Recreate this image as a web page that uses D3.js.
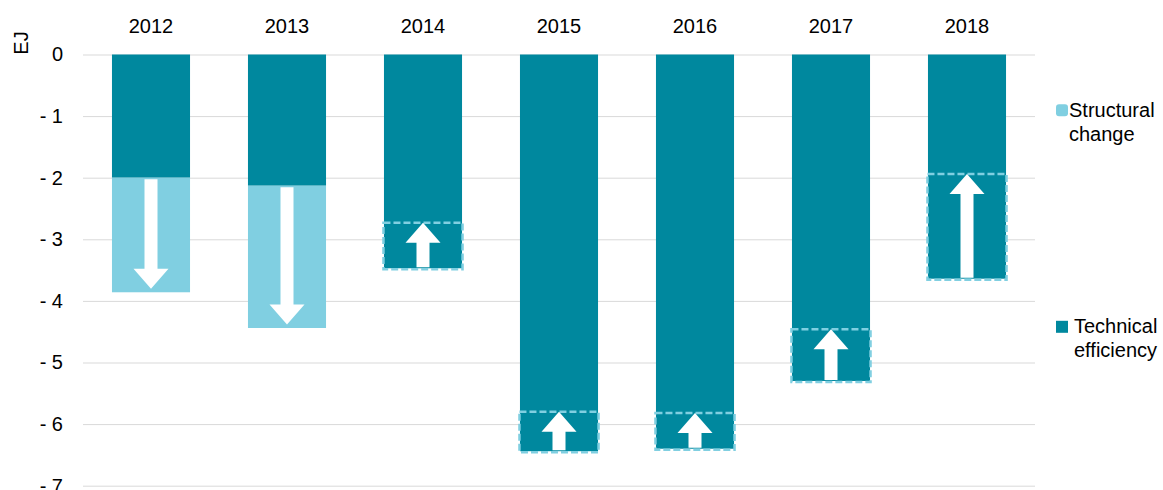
<!DOCTYPE html>
<html>
<head>
<meta charset="utf-8">
<script src="https://cdn.jsdelivr.net/npm/d3@7/dist/d3.min.js"></script>
<style>
  body { margin: 0; background: #fff; }
  svg { font-family: "Liberation Sans", Arial, sans-serif; }
</style>
</head>
<body>
<svg id="chart" width="1163" height="490"></svg>
<script>
// data (EJ)
const years = ["2012", "2013", "2014", "2015", "2016", "2017", "2018"];
const technicalEfficiency = [-2.0, -2.13, -3.47, -6.44, -6.40, -5.30, -3.64];
const structuralChange = [-1.86, -2.31, 0.74, 0.64, 0.58, 0.84, 1.70];
const yTicks = [0, -1, -2, -3, -4, -5, -6, -7];
const legendItems = [
    { lines: ["Structural", "change"], key: "sc" },
    { lines: ["Technical", "efficiency"], key: "te" }
];

const darkTeal = "#00889e";
const lightBlue = "#80cfe1";

const svg = d3.select("#chart");
const margin = { top: 54.5, left: 83 };
const innerWidth = 952;
const innerHeight = 431.2;

const g = svg.append("g")
    .attr("transform", `translate(${margin.left},${margin.top})`);

const x = d3.scaleBand()
    .domain(years)
    .range([0, innerWidth])
    .paddingInner(0.426)
    .paddingOuter(0.213);

const y = d3.scaleLinear()
    .domain([0, -7])
    .range([0, innerHeight]);

// y axis with gridlines
const yAxis = d3.axisLeft(y)
    .tickValues(yTicks)
    .tickSize(-innerWidth)
    .tickPadding(20)
    .tickFormat(d => d === 0 ? "0" : "- " + Math.abs(d));

g.append("g")
    .call(yAxis)
    .call(s => s.select(".domain").remove())
    .call(s => s.selectAll(".tick line").attr("stroke", "#d9d9d9").attr("stroke-width", 1))
    .call(s => s.selectAll(".tick text")
        .attr("fill", "#000")
        .style("font-size", "20px")
        .style("font-family", "'Liberation Sans', Arial, sans-serif"));

// year labels on top
g.append("g")
    .call(d3.axisTop(x).tickSize(0).tickPadding(21.5))
    .call(s => s.select(".domain").remove())
    .call(s => s.selectAll(".tick text")
        .attr("fill", "#000")
        .style("font-size", "20px")
        .style("font-family", "'Liberation Sans', Arial, sans-serif"));

svg.append("text")
    .attr("transform", "translate(28,43) rotate(-90)")
    .attr("text-anchor", "middle")
    .style("font-size", "20px")
    .attr("fill", "#000")
    .text("EJ");

const rows = years.map((yr, i) => ({
    year: yr,
    te: technicalEfficiency[i],
    sc: structuralChange[i]
}));

// technical efficiency bars
g.selectAll(".te-bar")
    .data(rows)
    .join("rect")
    .attr("class", "te-bar")
    .attr("x", d => x(d.year))
    .attr("width", x.bandwidth())
    .attr("y", y(0))
    .attr("height", d => y(d.te) - y(0))
    .attr("fill", darkTeal);

// negative structural change: light bars below
g.selectAll(".sc-bar")
    .data(rows.filter(d => d.sc < 0))
    .join("rect")
    .attr("class", "sc-bar")
    .attr("x", d => x(d.year))
    .attr("width", x.bandwidth())
    .attr("y", d => y(d.te))
    .attr("height", d => y(d.te + d.sc) - y(d.te))
    .attr("fill", lightBlue);

// positive structural change: dashed boxes inside teal bar
g.selectAll(".sc-box")
    .data(rows.filter(d => d.sc > 0))
    .join("rect")
    .attr("class", "sc-box")
    .attr("x", d => x(d.year) - 0.5)
    .attr("width", x.bandwidth() + 1)
    .attr("y", d => y(d.te + d.sc))
    .attr("height", d => y(d.te) - y(d.te + d.sc) + 1)
    .attr("fill", "none")
    .attr("stroke", lightBlue)
    .attr("stroke-width", 2.5)
    .attr("stroke-dasharray", "7 3");

// arrows
function arrowPath(cx, y0, y1) {
    const shaft = 6.5, head = 17.5, headH = 20;
    const dir = y1 > y0 ? 1 : -1;
    const yb = y1 - dir * headH;
    return `M${cx - shaft},${y0} L${cx - shaft},${yb} L${cx - head},${yb} L${cx},${y1}` +
        ` L${cx + head},${yb} L${cx + shaft},${yb} L${cx + shaft},${y0} Z`;
}

g.selectAll(".arrow")
    .data(rows)
    .join("path")
    .attr("class", "arrow")
    .attr("fill", "#fff")
    .attr("d", d => {
        const cx = x(d.year) + x.bandwidth() / 2;
        if (d.sc < 0) {
            return arrowPath(cx, y(d.te) + 1.5, y(d.te + d.sc) - 3.5);
        }
        return arrowPath(cx, y(d.te) - 1, y(d.te + d.sc));
    });

// legend
const legend = svg.append("g");
const legendY = [116.7, 333.3];
const legendTextX = [1069, 1074];
legendItems.forEach((item, i) => {
    const ly = legendY[i];
    legend.append("rect")
        .attr("x", 1056)
        .attr("y", ly - 12.5)
        .attr("width", 12)
        .attr("height", 12)
        .attr("rx", item.key === "sc" ? 3 : 0)
        .attr("fill", item.key === "sc" ? lightBlue : darkTeal);
    item.lines.forEach((line, j) => {
        legend.append("text")
            .attr("x", legendTextX[i])
            .attr("y", ly + j * 24)
            .style("font-size", "20px")
            .attr("fill", "#000")
            .text(line);
    });
});
</script>
</body>
</html>
